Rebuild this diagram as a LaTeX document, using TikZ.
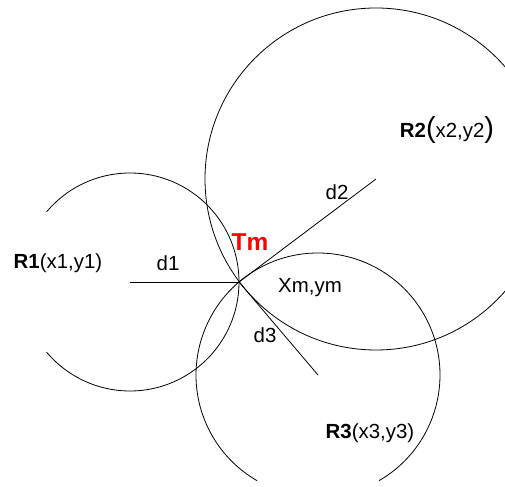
\documentclass[tikz,border=0pt]{standalone}
\usepackage{fontspec}
\setmainfont{Liberation Sans}
\begin{document}
\begin{tikzpicture}[x=1bp, y=1bp, line width=0.8bp,
    lbl/.style={font=\fontsize{20.5}{24}\selectfont}]
    \useasboundingbox (0, 0) rectangle (505, 487);
    \clip (0, 0) rectangle (505, 487);

    % Reference points
    \coordinate (Tm) at (239, 205);
    \coordinate (R1) at (130, 205);
    \coordinate (R2) at (376, 308);
    \coordinate (R3) at (318, 112);

    % Circles
    \draw (R1) ++(140:109) arc[start angle=140, end angle=-140, radius=109];
    \draw (R2) circle (171);
    \draw (R3) ++(-60:122) arc[start angle=-60, end angle=240, radius=122];

    % Distances
    \draw (R1) -- (Tm);
    \draw (Tm) -- (R2);
    \draw (Tm) -- (R3);

    \node[lbl] (d1) at (168, 224) {d1};
    \node[lbl] (d2) at (337, 295) {d2};
    \node[lbl] (d3) at (265, 152) {d3};

    % Labels
    \node[lbl] (R1lbl) at (58, 224) {\textbf{R1}(x1,y1)};
    \node[lbl] (R2lbl) at (447, 357) {\textbf{R2}{\fontsize{29}{29}\selectfont(}x2,y2{\fontsize{29}{29}\selectfont)}};
    \node[lbl] (R3lbl) at (370, 54) {\textbf{R3}(x3,y3)};
    \node[lbl] (Xm) at (310, 199) {Xm,ym};
    \node[font=\fontsize{24.5}{28}\selectfont\bfseries, text=red] (TmLbl) at (250, 245) {Tm};
\end{tikzpicture}
\end{document}
